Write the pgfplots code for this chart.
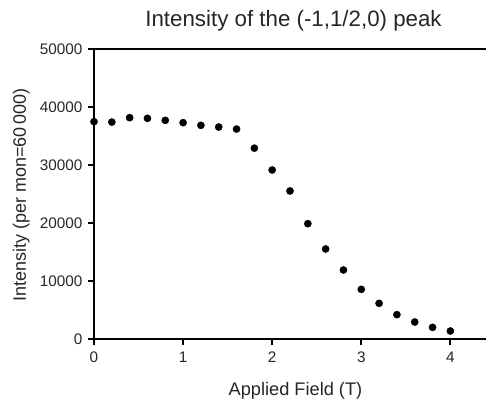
\documentclass[border=0pt]{standalone}
\usepackage{pgfplots}
\pgfplotsset{compat=1.18}
\usepackage{fontspec}
\setmainfont{Liberation Sans}
\begin{document}
\begin{tikzpicture}
\begin{axis}[
  at={(0,0)}, anchor=south west,
  scale only axis, width=392pt, height=290pt,
  xmin=0, xmax=4.4, ymin=0, ymax=50000,
  axis x line=box, axis y line=left,
  axis line style={line width=2.6pt, -},
  xtick={0,1,2,3,4}, ytick={0,10000,20000,30000,40000,50000},
  xtick pos=bottom, ytick pos=left,
  tick align=outside, major tick length=6pt,
  tick style={line width=2pt, black},
  scaled y ticks=false,
  /pgf/number format/.cd, 1000 sep={}, assume math mode=true, /pgfplots/.cd,
  ticklabel style={font=\fontsize{15.3}{18}\selectfont, text=black!85},
  xticklabel style={yshift=-3pt},
  yticklabel style={xshift=-2pt},
  title={Intensity of the (-1,1/2,0) peak},
  title style={at={(0.509,1)}, anchor=base, yshift=17pt, font=\fontsize{22.3}{26}\selectfont, text=black!85},
  xlabel={Applied Field (T)},
  every axis x label/.style={at={(0.514,0)}, anchor=base, yshift=-56pt, font=\fontsize{18.2}{21}\selectfont, text=black!85},
  ylabel={Intensity (per mon=60\,000)},
  every axis y label/.style={at={(0,0.4966)}, xshift=-68pt, rotate=90, anchor=base, font=\fontsize{18}{21}\selectfont, text=black!85},
  clip=false,
]
\addplot[only marks, mark=*, mark size=3.6pt, black] coordinates {
(0.0,37470) (0.2,37400) (0.4,38160) (0.6,38050) (0.8,37700) (1.0,37300)
(1.2,36840) (1.4,36550) (1.6,36200) (1.8,32900) (2.0,29140) (2.2,25520)
(2.4,19880) (2.6,15520) (2.8,11900) (3.0,8560) (3.2,6150) (3.4,4200)
(3.6,2930) (3.8,2010) (4.0,1380)
};
\end{axis}
\pgfresetboundingbox
\path[use as bounding box] (-94pt,-60pt) rectangle (392pt,339pt);
\end{tikzpicture}
\end{document}
